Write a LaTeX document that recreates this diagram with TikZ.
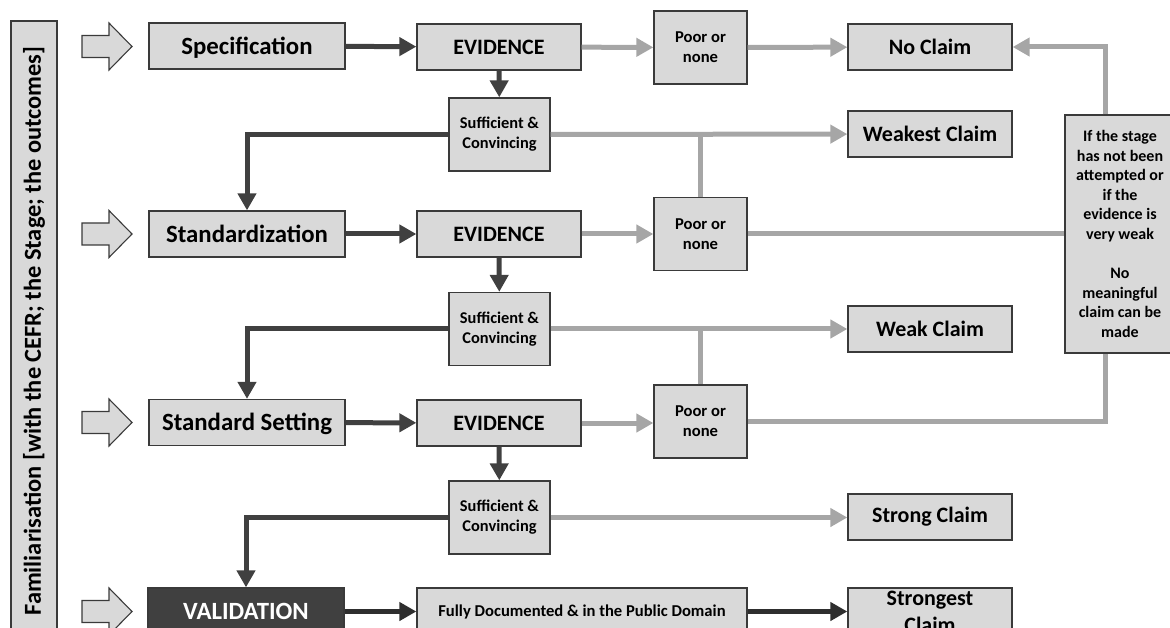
\documentclass[tikz,border=0pt]{standalone}
\usepackage{fontspec}
\setmainfont{Carlito}
\usetikzlibrary{arrows.meta}
\definecolor{boxfill}{HTML}{D9D9D9}
\definecolor{boxline}{HTML}{3A3A3A}
\definecolor{darkline}{HTML}{404040}
\definecolor{darkerline}{HTML}{2E2E2E}
\definecolor{grayline}{HTML}{A6A6A6}
\definecolor{valfill}{HTML}{404040}
\begin{document}
\begin{tikzpicture}[x=1pt,y=-1pt,
  box/.style={draw=boxline, fill=boxfill, line width=1.3pt, inner sep=0pt, align=center},
  stagebox/.style={box, minimum width=196pt, minimum height=46pt, text height=16.6pt, text depth=0pt, font=\fontsize{24.8}{28}\selectfont\bfseries},
  evbox/.style={box, minimum width=164pt, minimum height=46pt, font=\fontsize{22}{26}\selectfont\bfseries},
  smallbox/.style={box, minimum width=93pt, minimum height=73pt, font=\fontsize{16.6}{20}\selectfont\bfseries},
  suffbox/.style={box, minimum width=101pt, minimum height=73pt, font=\fontsize{16.4}{20}\selectfont\bfseries},
  claimbox/.style={box, minimum width=164pt, minimum height=46pt, font=\fontsize{22}{27}\selectfont\bfseries},
  hollow/.style={draw=boxline, fill=boxfill, line width=1.1pt, line join=miter},
  darr/.style={draw=darkline, line width=5pt, -{Triangle[length=17pt,width=18pt]}},
  dline/.style={draw=darkline, line width=5pt},
  garr/.style={draw=grayline, line width=5pt, -{Triangle[length=17pt,width=18pt]}},
  gline/.style={draw=grayline, line width=5pt}
]
\useasboundingbox (0,0) rectangle (1170,628);
\clip (0,0) rectangle (1170,628);

% left bar
\node[box, rotate=90, minimum width=620pt, minimum height=46pt, font=\fontsize{24.4}{28}\selectfont\bfseries] (fam) at (34,331) {Familiarisation [with the CEFR; the Stage; the outcomes]};

% hollow arrows
\foreach \c in {46.5,234,422.5,611.5}
  \draw[hollow] (82,\c-11) -- (109,\c-11) -- (109,\c-23.5) -- (132,\c) -- (109,\c+23.5) -- (109,\c+11) -- (82,\c+11) -- cycle;

% stages
\node[stagebox] (spec) at (247,46) {Specification};
\node[stagebox] (stdz) at (247,234) {Standardization};
\node[stagebox] (stds) at (247,422.5) {Standard Setting};
\node[stagebox, fill=valfill, text=white, minimum height=47pt] (valid) at (246,611.5) {VALIDATION};

% evidence
\node[evbox] (ev1) at (499,47) {EVIDENCE};
\node[evbox] (ev2) at (499,234) {EVIDENCE};
\node[evbox] (ev3) at (499,423) {EVIDENCE};
\node[box, minimum width=330pt, minimum height=47pt, font=\fontsize{16.6}{20}\selectfont\bfseries] (fully) at (582,611.5) {Fully Documented \& in the Public Domain};

% poor or none
\node[smallbox] (poor1) at (700.5,47.5) {Poor or\\none};
\node[smallbox] (poor2) at (700.5,234) {Poor or\\none};
\node[smallbox] (poor3) at (700.5,421.5) {Poor or\\none};

% sufficient
\node[suffbox] (suff1) at (499.5,134.5) {Sufficient \&\\Convincing};
\node[suffbox] (suff2) at (499.5,329) {Sufficient \&\\Convincing};
\node[suffbox] (suff3) at (499.5,517.5) {Sufficient \&\\Convincing};

% claims
\node[claimbox] (noc) at (930,47) {No Claim};
\node[claimbox] (weakest) at (930,134) {Weakest Claim};
\node[claimbox] (weak) at (930,329) {Weak Claim};
\node[claimbox] (strong) at (930,517) {Strong Claim};
\node[claimbox, minimum height=47pt] (strongest) at (930,611.5) {Strongest\\Claim};

% note
\node[box, minimum width=110pt, minimum height=238pt, font=\fontsize{16}{19.6}\selectfont\bfseries] (note) at (1120,234) {If the stage\\has not been\\attempted or\\if the\\evidence is\\very weak\\[19.6pt]No\\meaningful\\claim can be\\made};
\coordinate (ntop) at ([xshift=-15]note.north);
\coordinate (nbot) at ([xshift=-15]note.south);

% dark connectors
\draw[darr] (spec) -- (ev1);
\draw[darr] (stdz) -- (ev2);
\draw[darr] (stds) -- (ev3);
\draw[darr, draw=darkerline] (valid) -- (fully);
\draw[darr, draw=darkerline] (fully) -- (strongest);
\draw[darr] (ev1) -- (suff1);
\draw[darr] (ev2) -- (suff2);
\draw[darr] (ev3) -- (suff3);
\draw[darr] (suff1.west) -| (stdz.north);
\draw[darr] (suff2.west) -| (stds.north);
\draw[darr] (suff3.west) -| (valid.north);

% gray connectors
\draw[garr] (ev1) -- (poor1);
\draw[garr] (ev2) -- (poor2);
\draw[garr] (ev3.east) -- (poor3.west |- ev3.east);
\draw[garr] (poor1) -- (noc);
\draw[gline] (poor2.east) -- (note.west |- poor2.east);
\draw[gline] (poor3.east) -| (nbot);
\draw[garr] (ntop) |- (noc.east);
\draw[garr] (suff1) -- (weakest);
\draw[garr] (suff2) -- (weak);
\draw[garr] (suff3.east) -- (strong.west |- suff3.east);
\draw[gline] (poor2.north) -- (poor2.north |- suff1.east);
\draw[gline] (poor3.north) -- (poor3.north |- suff2.east);
\end{tikzpicture}
\end{document}
